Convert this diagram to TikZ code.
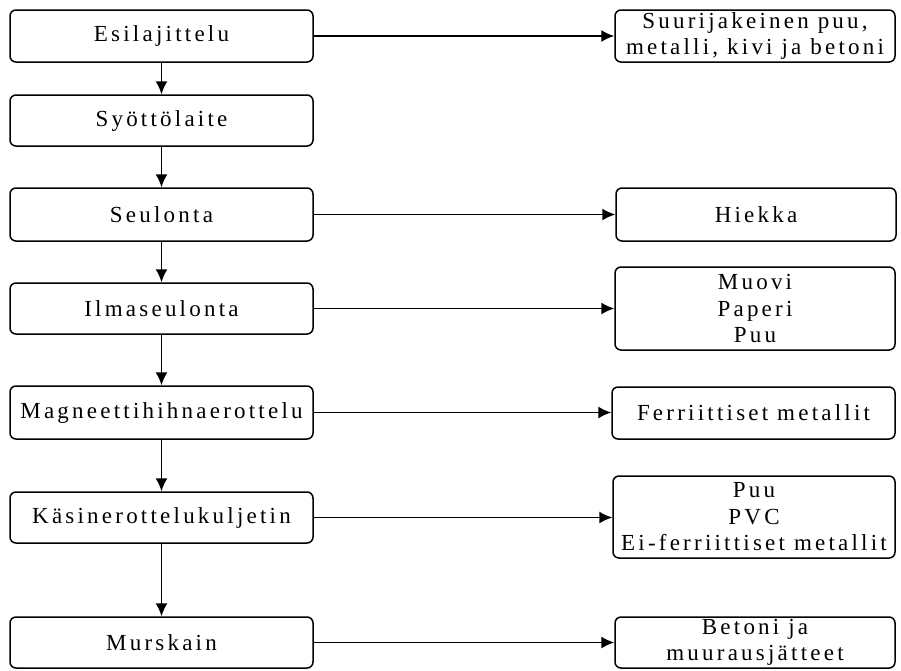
\documentclass[tikz,border=0pt]{standalone}
\usepackage{fontspec}
\setmainfont[LetterSpace=14]{Liberation Serif}
\usetikzlibrary{arrows.meta}
\begin{document}
\begin{tikzpicture}[x=1pt,y=-1pt,
  box/.style={draw,line width=1.5pt,rounded corners=6pt,inner sep=0pt,
    align=center,font=\fontsize{23}{26.5}\selectfont},
  leftbox/.style={box,minimum width=303pt},
  rightbox/.style={box,minimum width=280pt},
  flow/.style={line width=1.5pt,-{Latex[length=13pt,width=12pt]}}]
\useasboundingbox (0,0) rectangle (901,670);
% process chain
\node[leftbox,minimum height=52pt] (esi) at (161.5,36) {Esilajittelu};
\node[leftbox,minimum height=51pt] (syo) at (161.5,120.5) {Syöttölaite};
\node[leftbox,minimum height=53pt] (seu) at (161.5,214.5) {Seulonta};
\node[leftbox,minimum height=51pt] (ilm) at (161.5,308.5) {Ilmaseulonta};
\node[leftbox,minimum height=53pt] (mag) at (161.5,412.5) {Magneettihihnaerottelu};
\node[leftbox,minimum height=51pt] (kas) at (161.5,517.5) {Käsinerottelukuljetin};
\node[leftbox,minimum height=51pt] (mur) at (161.5,642.5) {Murskain};
% separated fractions
\node[rightbox,minimum height=52pt] (r1) at (755,36) {Suurijakeinen puu,\\metalli, kivi ja betoni};
\node[rightbox,minimum height=53pt] (r2) at (756,214.5) {Hiekka};
\node[rightbox,minimum height=83pt] (r3) at (755,308.5) {Muovi\\Paperi\\Puu};
\node[rightbox,minimum height=52pt,minimum width=283pt] (r4) at (753.5,413) {Ferriittiset metallit};
\node[rightbox,minimum height=82pt,minimum width=282pt] (r5) at (754,517) {Puu\\PVC\\Ei-ferriittiset metallit};
\node[rightbox,minimum height=51pt] (r6) at (755,642.5) {Betoni ja\\muurausjätteet};
% vertical flow
\draw[flow] (esi) -- (syo);
\draw[flow] (syo) -- (seu);
\draw[flow] (seu) -- (ilm);
\draw[flow] (ilm) -- (mag);
\draw[flow] (mag) -- (kas);
\draw[flow] (kas) -- (mur);
% side outputs
\draw[flow] (esi.east) -- (esi.east -| r1.west);
\draw[flow] (seu.east) -- (seu.east -| r2.west);
\draw[flow] (ilm.east) -- (ilm.east -| r3.west);
\draw[flow] (mag.east) -- (mag.east -| r4.west);
\draw[flow] (kas.east) -- (kas.east -| r5.west);
\draw[flow] (mur.east) -- (mur.east -| r6.west);
\end{tikzpicture}
\end{document}
